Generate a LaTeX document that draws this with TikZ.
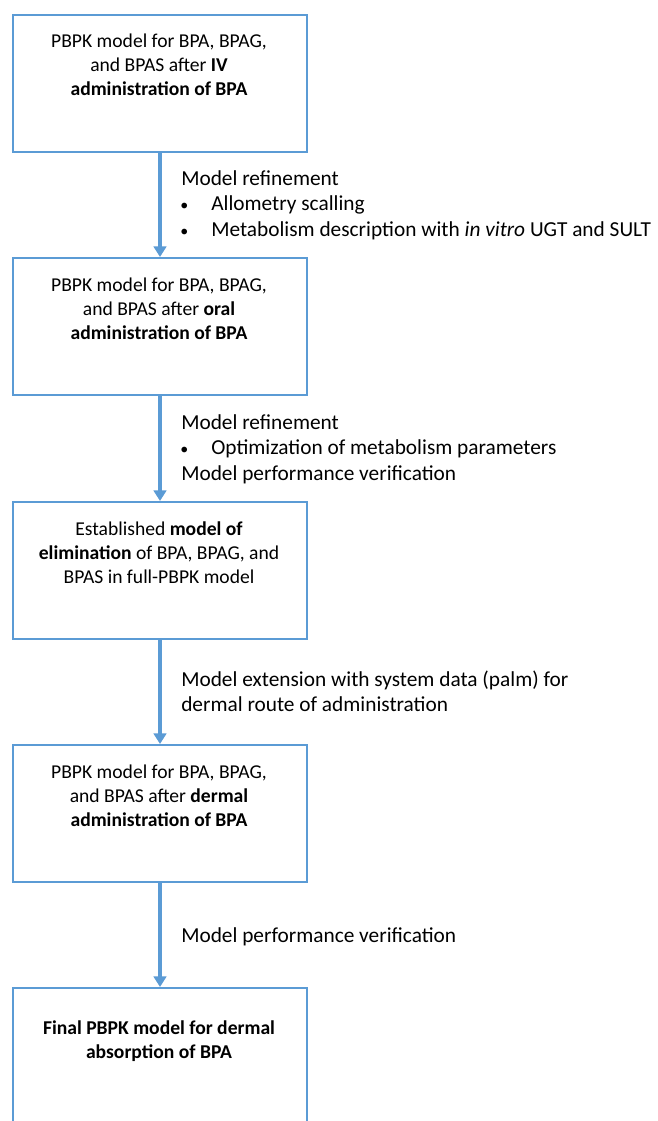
\documentclass[tikz,border=0pt]{standalone}
\usepackage{fontspec}
\setmainfont{Carlito}
\usetikzlibrary{arrows.meta}
\definecolor{boxblue}{HTML}{5B9BD5}
\newcommand{\fl}{\rule{0pt}{12.5pt}}
\newcommand{\bul}{\makebox[22.5pt][l]{\hspace{-0.6pt}{\fontsize{12pt}{12pt}\selectfont •}}}
\begin{document}
\begin{tikzpicture}[x=0.75pt,y=-0.75pt,
  stagebox/.style={draw=boxblue,line width=1.5pt,minimum width=220.5pt,minimum height=102.75pt,anchor=north west,inner sep=0pt},
  stagetext/.style={anchor=north,align=center,inner sep=0pt,font=\fontsize{14.7pt}{18pt}\selectfont},
  steptext/.style={anchor=north west,align=left,inner sep=0pt,font=\fontsize{16pt}{19.1pt}\selectfont},
  flow/.style={draw=boxblue,line width=2.4pt,-{Triangle[width=9.5pt,length=8pt]}}]
\useasboundingbox (0,0) rectangle (657,1121);
\clip (0,0) rectangle (657,1121);
\fill[white] (0,0) rectangle (657,1121);
% boxes
\node[stagebox] (b1) at (12,14) {};
\node[stagebox] (b2) at (12,257) {};
\node[stagebox] (b3) at (12,501) {};
\node[stagebox] (b4) at (12,744) {};
\node[stagebox] (b5) at (12,987) {};
% box texts
\node[stagetext] (t1) at (159,30.3) {\fl PBPK model for BPA, BPAG,\\and BPAS after \textbf{IV}\\\textbf{administration of BPA}};
\node[stagetext] (t2) at (159,274.3) {\fl PBPK model for BPA, BPAG,\\and BPAS after \textbf{oral}\\\textbf{administration of BPA}};
\node[stagetext] (t3) at (159,518.3) {\fl Established \textbf{model of}\\\textbf{elimination} of BPA, BPAG, and\\BPAS in full-PBPK model};
\node[stagetext] (t4) at (159,761.3) {\fl PBPK model for BPA, BPAG,\\and BPAS after \textbf{dermal}\\\textbf{administration of BPA}};
\node[stagetext] (t5) at (159,1017.3) {\fl\textbf{Final PBPK model for dermal}\\\textbf{absorption of BPA}};
% arrows
\draw[flow] (b1.south) -- (b2.north);
\draw[flow] (b2.south) -- (b3.north);
\draw[flow] (b3.south) -- (b4.north);
\draw[flow] (b4.south) -- (b5.north);
% step labels
\node[steptext] (s1) at (181,168.3) {\fl Model refinement\\\bul Allometry scalling\\\bul Metabolism description with \textit{in vitro} UGT and SULT};
\node[steptext] (s2) at (181,412.3) {\fl Model refinement\\\bul Optimization of metabolism parameters\\Model performance verification};
\node[steptext] (s3) at (181,669.3) {\fl Model extension with system data (palm) for\\dermal route of administration};
\node[steptext] (s4) at (181,925.3) {\fl Model performance verification};
\end{tikzpicture}
\end{document}
